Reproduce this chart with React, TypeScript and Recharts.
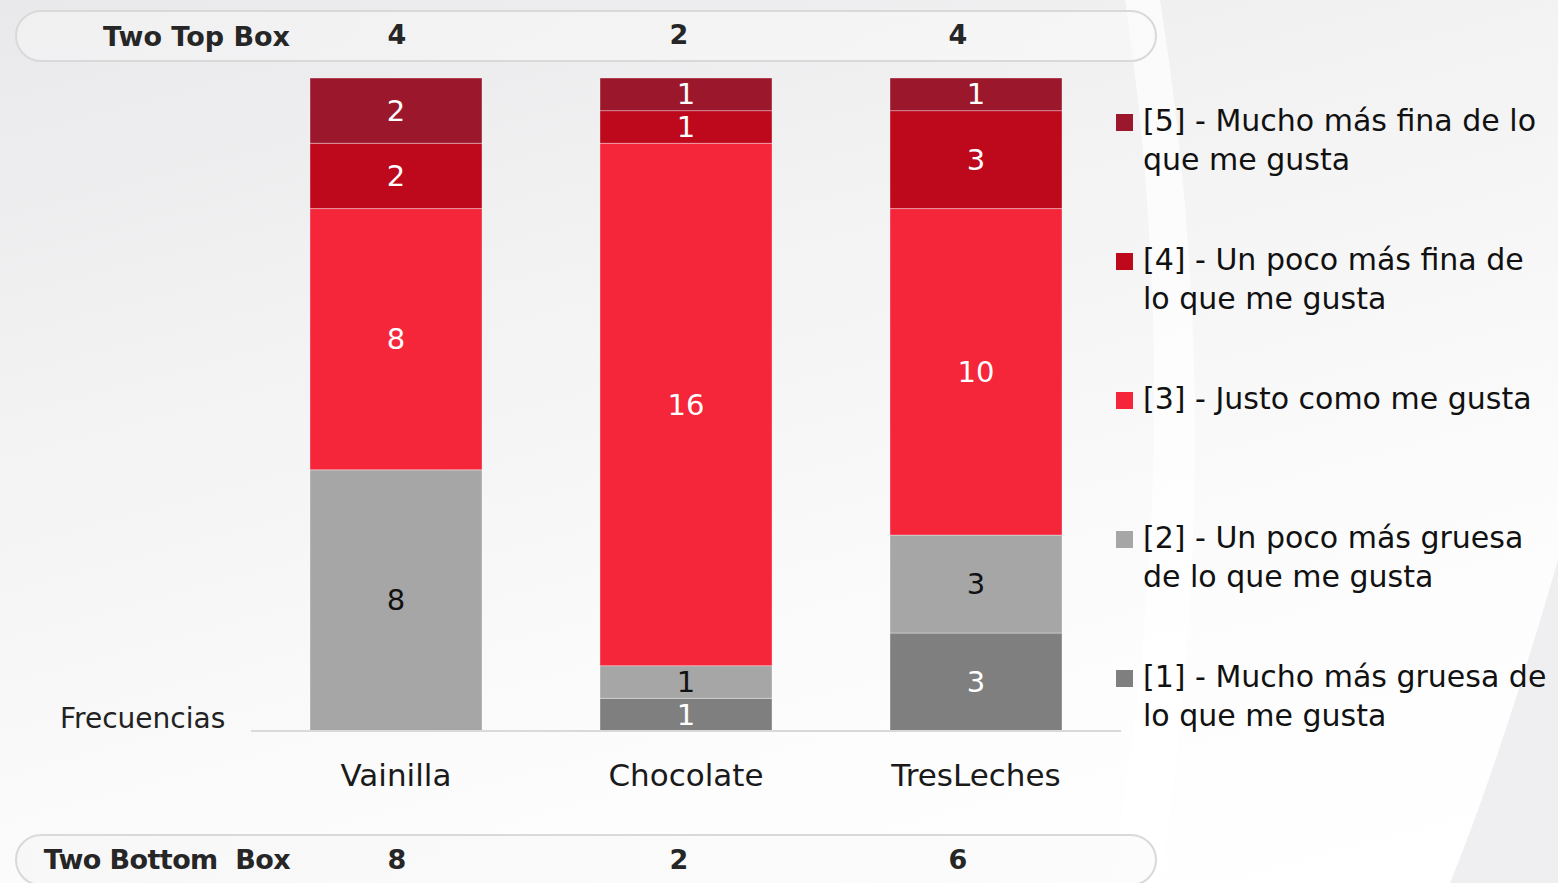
import React from 'react';
import { BarChart, Bar, XAxis, YAxis, Legend, LabelList } from 'recharts';

const categories = ['Vainilla', 'Chocolate', 'TresLeches'];
// stacked bottom -> top
const s1 = [0, 1, 3];
const s2 = [8, 1, 3];
const s3 = [8, 16, 10];
const s4 = [2, 1, 3];
const s5 = [2, 1, 1];

const seriesNames = [
  '[1] - Mucho más gruesa de\nlo que me gusta',
  '[2] - Un poco más gruesa\nde lo que me gusta',
  '[3] - Justo como me gusta',
  '[4] - Un poco más fina de\nlo que me gusta',
  '[5] - Mucho más fina de lo\nque me gusta',
];
const colors = ['#7f7f7f', '#a6a6a6', '#f5253a', '#be081c', '#9b182c'];
const labelColors = ['#ffffff', '#111111', '#ffffff', '#ffffff', '#ffffff'];

const topBox = categories.map((_, i) => s4[i] + s5[i]);
const bottomBox = categories.map((_, i) => s1[i] + s2[i]);

const data = categories.map((name, i) => ({
  name,
  s1: s1[i],
  s2: s2[i],
  s3: s3[i],
  s4: s4[i],
  s5: s5[i],
}));

const FONT = '"DejaVu Sans", sans-serif';
const keys = ['s1', 's2', 's3', 's4', 's5'];
const boxX = [397, 679, 958];

const makeLabel = (fill: string) => (props: any) => {
  const { x, y, width, height, value } = props;
  if (!value) return null;
  return (
    <text
      x={x + width / 2}
      y={y + height / 2}
      fill={fill}
      fontSize={29}
      fontFamily={FONT}
      textAnchor="middle"
      dominantBaseline="central"
    >
      {value}
    </text>
  );
};

const LegendContent = () => {
  const items = [...keys].reverse();
  return (
    <div style={{ fontFamily: FONT }}>
      {items.map((k) => {
        const i = keys.indexOf(k);
        return (
          <div key={k} style={{ position: 'relative', height: 139 }}>
            <div
              style={{
                position: 'absolute',
                left: 2,
                top: 13,
                width: 17,
                height: 17,
                background: colors[i],
              }}
            />
            <div
              style={{
                position: 'absolute',
                left: 29,
                top: 0,
                fontSize: 30,
                lineHeight: '39px',
                color: '#111',
                whiteSpace: 'pre',
              }}
            >
              {seriesNames[i]}
            </div>
          </div>
        );
      })}
    </div>
  );
};

const pillStyle: React.CSSProperties = {
  position: 'absolute',
  left: 15,
  width: 1138,
  height: 48,
  border: '2px solid #d9d9d9',
  borderRadius: 26,
  background: 'linear-gradient(90deg, rgba(245,245,246,0.6), rgba(250,250,250,0.6))',
};

const boxText: React.CSSProperties = {
  position: 'absolute',
  fontFamily: FONT,
  fontWeight: 'bold',
  fontSize: 27,
  color: '#262626',
  lineHeight: '30px',
};

export default function App() {
  return (
    <div
      style={{
        position: 'absolute',
        left: 0,
        top: 0,
        width: 1558,
        height: 883,
        overflow: 'hidden',
        background: 'linear-gradient(165deg, #e9e9eb 0%, #f3f3f4 35%, #fdfdfd 75%, #ffffff 100%)',
      }}
    >
      <svg width={1558} height={883} style={{ position: 'absolute', left: 0, top: 0 }}>
        <path d="M1125 0 Q1190 440 1110 883 L1160 883 Q1230 440 1160 0 Z" fill="#ffffff" opacity={0.7} />
        <path d="M1558 560 Q1500 760 1450 883 L1558 883 Z" fill="#ebebed" opacity={0.8} />
      </svg>

      <div style={{ ...pillStyle, top: 10 }} />
      <div style={{ ...boxText, right: 1558 - 290, top: 22 }}>Two Top Box</div>
      {topBox.map((v, i) => (
        <div key={'t' + i} style={{ ...boxText, left: boxX[i] - 40, width: 80, textAlign: 'center', top: 20 }}>
          {v}
        </div>
      ))}

      <div style={{ ...pillStyle, top: 834 }} />
      <div style={{ ...boxText, right: 1558 - 290, top: 845, whiteSpace: 'pre', letterSpacing: -0.6 }}>
        Two Bottom  Box
      </div>
      {bottomBox.map((v, i) => (
        <div key={'b' + i} style={{ ...boxText, left: boxX[i] - 40, width: 80, textAlign: 'center', top: 845 }}>
          {v}
        </div>
      ))}

      <div
        style={{
          position: 'absolute',
          left: 60,
          top: 702,
          fontFamily: FONT,
          fontSize: 28,
          color: '#222',
        }}
      >
        Frecuencias
      </div>

      <div style={{ position: 'absolute', left: 0, top: 0 }}>
        <BarChart
          width={1558}
          height={883}
          data={data}
          margin={{ top: 78, right: 437, bottom: 122, left: 251 }}
          barSize={172}
        >
          <XAxis
            dataKey="name"
            height={30}
            axisLine={{ stroke: '#d9d9d9', strokeWidth: 2 }}
            tickLine={false}
            tickMargin={27}
            tick={{ fill: '#1a1a1a', fontSize: 31, fontFamily: FONT }}
          />
          <YAxis hide domain={[0, 20]} />
          <Legend
            layout="vertical"
            align="center"
            verticalAlign="middle"
            wrapperStyle={{ left: 1114, top: 101, width: 444, height: 700 }}
            content={<LegendContent />}
          />
          {keys.map((k, i) => (
            <Bar
              key={k}
              dataKey={k}
              name={seriesNames[i]}
              stackId="a"
              fill={colors[i]}
              stroke="rgba(255,255,255,0.35)"
              strokeWidth={1}
              isAnimationActive={false}
            >
              <LabelList dataKey={k} content={makeLabel(labelColors[i])} />
            </Bar>
          ))}
        </BarChart>
      </div>
    </div>
  );
}
